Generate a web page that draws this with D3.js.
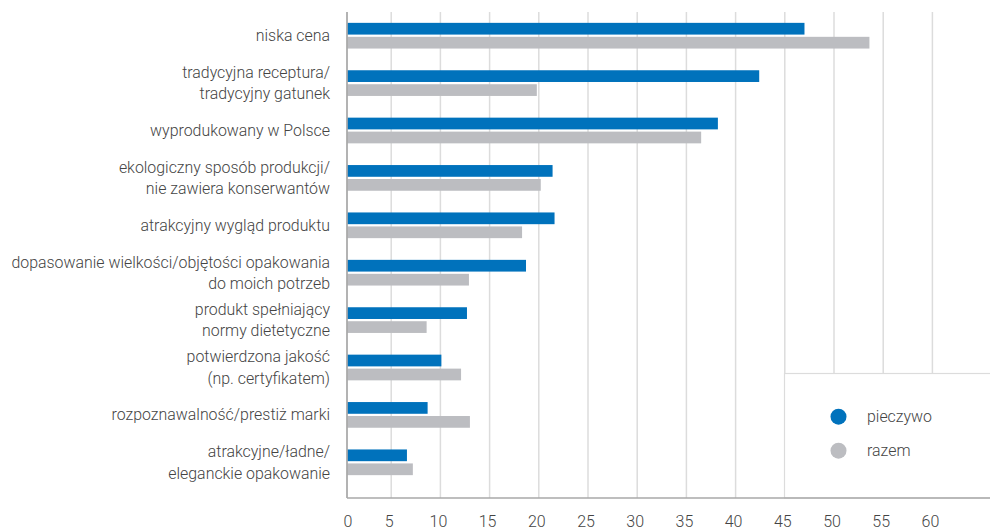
<!DOCTYPE html>
<html>
<head>
<meta charset="utf-8">
<script src="https://cdn.jsdelivr.net/npm/d3@7"></script>
<style>
  html, body { margin: 0; padding: 0; background: #fff; }
  svg text { font-family: Roboto, "Noto Sans", sans-serif; font-weight: 300; fill: #444; }
</style>
</head>
<body>
<svg id="chart" width="990" height="530"></svg>
<script>
// Categories (each entry: lines of the label)
const categories = [
  ["niska cena"],
  ["tradycyjna receptura/", "tradycyjny gatunek"],
  ["wyprodukowany w Polsce"],
  ["ekologiczny sposób produkcji/", "nie zawiera konserwantów"],
  ["atrakcyjny wygląd produktu"],
  ["dopasowanie wielkości/objętości opakowania", "do moich potrzeb"],
  ["produkt spełniający", "normy dietetyczne"],
  ["potwierdzona jakość", "(np. certyfikatem)"],
  ["rozpoznawalność/prestiż marki"],
  ["atrakcyjne/ładne/", "eleganckie opakowanie"]
];
const seriesNames = ["pieczywo", "razem"];
const pieczywo = [47.0, 42.4, 38.2, 21.4, 21.6, 18.7, 12.7, 10.1, 8.7, 6.6];
const razem    = [53.6, 19.8, 36.5, 20.2, 18.3, 12.9, 8.6, 12.1, 13.0, 7.2];
const xTicks = [0, 5, 10, 15, 20, 25, 30, 35, 40, 45, 50, 55, 60];
const colors = ["#0072bc", "#bcbdc1"];

const svg = d3.select("#chart");
const axisX = 347, plotTop = 12, plotBottom = 498;

const x = d3.scaleLinear().domain([0, 60]).range([342, 932.4]);
const y = d3.scaleBand().domain(d3.range(categories.length)).range([12, 486]).paddingInner(0).paddingOuter(0);
const inner = d3.scaleBand().domain([0, 1]).range([0, 25.7]).paddingInner(0.16);

// Vertical gridlines
const grid = svg.append("g");
grid.selectAll("line").data(xTicks.filter(d => d > 0)).join("line")
  .attr("x1", d => x(d)).attr("x2", d => x(d))
  .attr("y1", plotTop).attr("y2", plotBottom)
  .attr("stroke", "#dcdcdc").attr("stroke-width", 1.5);

// Bars clipped to the right of the value axis line
svg.append("clipPath").attr("id", "plotclip")
  .append("rect").attr("x", axisX + 0.5).attr("y", 0).attr("width", 990).attr("height", plotBottom);

const rows = categories.map((c, i) => ({ i, vals: [pieczywo[i], razem[i]] }));
const barG = svg.append("g").attr("clip-path", "url(#plotclip)");
const groups = barG.selectAll("g").data(rows).join("g")
  .attr("transform", d => `translate(0,${y(d.i) + (y.bandwidth() - 25.7) / 2})`);
groups.selectAll("rect").data(d => d.vals.map((v, s) => ({ v, s }))).join("rect")
  .attr("x", x(0))
  .attr("y", d => inner(d.s))
  .attr("width", d => x(d.v) - x(0))
  .attr("height", inner.bandwidth())
  .attr("fill", d => colors[d.s]);

// Category labels
const lineH = 21.5;
const labels = svg.append("g");
labels.selectAll("text").data(categories).join("text")
  .attr("text-anchor", "end")
  .attr("font-size", 15.9)
  .each(function (lines, i) {
    const cy = y(i) + y.bandwidth() / 2;
    const t = d3.select(this);
    lines.forEach((ln, k) => {
      t.append("tspan")
        .attr("x", 330)
        .attr("y", cy + (k - (lines.length - 1) / 2) * lineH)
        .attr("dy", "0.35em")
        .text(ln);
    });
  });

// Legend box
const lg = svg.append("g");
lg.append("rect").attr("x", 784.5).attr("y", 373.5).attr("width", 220).attr("height", plotBottom - 373.5)
  .attr("fill", "#fff").attr("stroke", "#dcdcdc").attr("stroke-width", 1.2);
seriesNames.forEach((name, s) => {
  const cy = 416.7 + s * 34;
  lg.append("circle").attr("cx", 838.5).attr("cy", cy).attr("r", 8).attr("fill", colors[s]);
  lg.append("text").attr("x", 867).attr("y", cy).attr("dy", "0.35em")
    .attr("font-size", 15.9).text(name);
});

// Axes lines
svg.append("line").attr("x1", axisX).attr("x2", axisX).attr("y1", plotTop).attr("y2", plotBottom)
  .attr("stroke", "#9a9a9a").attr("stroke-width", 1.5);
svg.append("line").attr("x1", axisX).attr("x2", 990).attr("y1", plotBottom).attr("y2", plotBottom)
  .attr("stroke", "#a8a8a8").attr("stroke-width", 1.5);

// Tick labels
svg.append("g").selectAll("text").data(xTicks).join("text")
  .attr("x", d => d === 0 ? axisX + 1 : x(d) - 2)
  .attr("y", 526.5)
  .attr("text-anchor", "middle")
  .attr("font-size", 16)
  .text(d => d);
</script>
</body>
</html>
